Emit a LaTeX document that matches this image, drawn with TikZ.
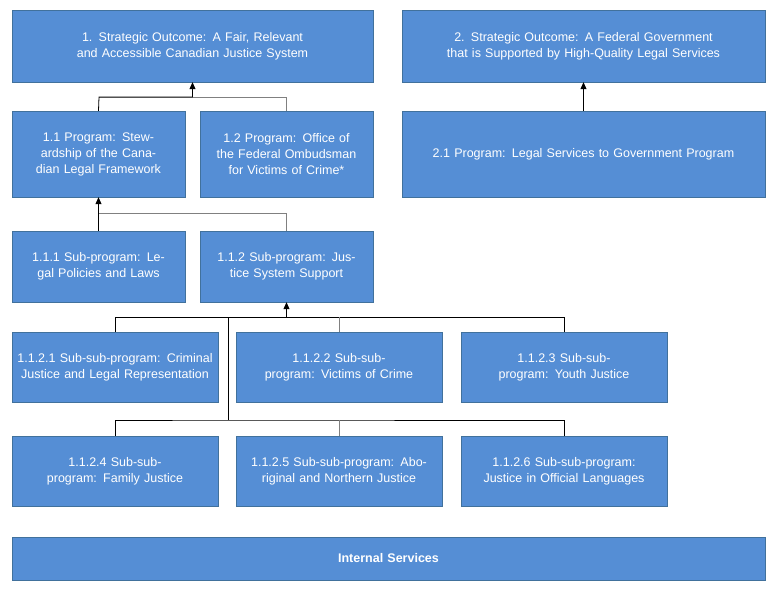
\documentclass[tikz,border=0pt]{standalone}
\usepackage{fontspec}
\setmainfont{Liberation Sans}
\usetikzlibrary{arrows.meta}
\definecolor{boxfill}{HTML}{558ED5}
\definecolor{boxline}{HTML}{41719C}
\tikzset{
  box/.style={draw=boxline, fill=boxfill, text=white, align=center, inner sep=2pt,
    font=\fontsize{12.5}{16}\selectfont},
  link/.style={black, line width=0.8pt},
  glink/.style={gray, line width=0.8pt},
  up/.style={link, -{Triangle[length=7pt,width=6pt]}}
}
\newcommand{\boxat}[6]{% name, x1, y1, x2, y2, text
  \node[box, minimum width=#4-#2, minimum height=#5-#3, text width=#4-#2-10] (#1) at ({(#2+#4)/2},{(#3+#5)/2}) {#6};}
\begin{document}
\begin{tikzpicture}[x=1pt,y=-1pt]
  \useasboundingbox (0,0) rectangle (780,596);
  % strategic outcomes
  \boxat{so1}{12}{10}{373}{82}{1. Strategic Outcome: A Fair, Relevant and Accessible Canadian Justice System}
  \boxat{so2}{402}{10}{765}{82}{2. Strategic Outcome: A Federal Government that is Supported by High-Quality Legal Services}
  % programs
  \boxat{p11}{12}{111}{185}{197}{1.1 Program: Stewardship of the Canadian Legal Framework}
  \boxat{p12}{200}{111}{373}{197}{1.2 Program: Office of the Federal Ombudsman for Victims of Crime*}
  \boxat{p21}{402}{111}{765}{197}{2.1 Program: Legal Services to Government Program}
  % sub-programs
  \boxat{s111}{12}{231}{185}{302}{1.1.1 Sub-program: Legal Policies and Laws}
  \boxat{s112}{200}{231}{373}{302}{1.1.2 Sub-program: Justice System Support}
  % sub-sub-programs
  \boxat{ss1}{12}{332}{218}{402}{1.1.2.1 Sub-sub-program: Criminal Justice and Legal Representation}
  \boxat{ss2}{236}{332}{442}{402}{1.1.2.2 Sub-sub-program: Victims of Crime}
  \boxat{ss3}{461}{332}{667}{402}{1.1.2.3 Sub-sub-program: Youth Justice}
  \boxat{ss4}{12}{436}{218}{506}{1.1.2.4 Sub-sub-program: Family Justice}
  \boxat{ss5}{236}{436}{442}{506}{1.1.2.5 Sub-sub-program: Aboriginal and Northern Justice}
  \boxat{ss6}{461}{436}{667}{506}{1.1.2.6 Sub-sub-program: Justice in Official Languages}
  \boxat{is}{12}{537}{765}{580}{\textbf{Internal Services}}
  % connectors
  \coordinate (b1) at (99,97);
  \draw[glink] (p12.north) |- (b1);
  \draw[up] (p11.north) -- (b1) -| (so1.south);
  \coordinate (b2) at (99,213);
  \draw[glink] (s112.north) |- (b2);
  \draw[up] (s111.north) -- (p11.south);
  \draw[up] (p21.north) -- (so2.south);
  \coordinate (t1) at (228,317);
  \coordinate (t2) at (228,420);
  \draw[link] (ss1.north) |- (t1) -- (t2);
  \draw[link] (t1) -| (ss3.north);
  \draw[glink] (ss2.north) -- (ss2.north |- t1);
  \draw[up] (s112.south |- t1) -- (s112.south);
  \draw[link] (ss4.north) |- (t2) -| (ss6.north);
  \draw[glink] (ss5.north) -- (ss5.north |- t2);
\end{tikzpicture}
\end{document}
